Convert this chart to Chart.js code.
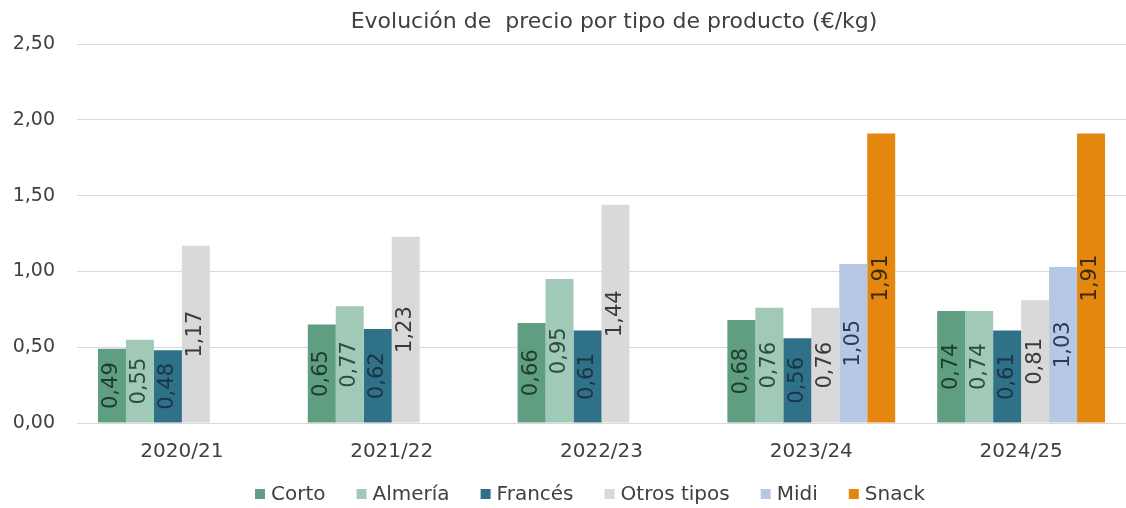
<!DOCTYPE html>
<html><head><meta charset="utf-8">
<script src="https://cdn.jsdelivr.net/npm/chart.js@4"></script>
<style>html,body{margin:0;padding:0;background:#fff;}#wrap{width:1126px;height:508px;}</style>
</head><body><div id="wrap"><canvas id="c" width="1126" height="508"></canvas></div>
<script>
const categories = ["2020/21","2021/22","2022/23","2023/24","2024/25"];
const corto = [0.49,0.65,0.66,0.68,0.74];
const almeria = [0.55,0.77,0.95,0.76,0.74];
const frances = [0.48,0.62,0.61,0.56,0.61];
const otros = [1.17,1.23,1.44,0.76,0.81];
const midi = [null,null,null,1.05,1.03];
const snack = [null,null,null,1.91,1.91];
const seriesNames = ["Corto","Almería","Francés","Otros tipos","Midi","Snack"];
const yTicks = [0,0.5,1,1.5,2,2.5];
const titleText = "Evolución de  precio por tipo de producto (€/kg)";

const FONT = "'DejaVu Sans', sans-serif";
const colors = ["#5f9e80","#a0cab7","#2f7189","#d9d9d9","#b6c8e6","#e3870f"];
const labelColors = ["#1f3a2e","#2f4a3e","#1b3444","#3a3a3a","#2c3a5a","#3a2a10"];
const fmt = v => v.toFixed(2).replace('.', ',');

const labelPlugin = {
  id:'barLabels',
  afterDatasetsDraw(chart){
    const ctx = chart.ctx;
    chart.data.datasets.forEach((ds,i)=>{
      const meta = chart.getDatasetMeta(i);
      meta.data.forEach((el,j)=>{
        const v = ds.data[j];
        if(v===null||v===undefined) return;
        const cy = (el.y + el.base)/2;
        ctx.save();
        ctx.translate(el.x, cy);
        ctx.rotate(-Math.PI/2);
        ctx.font = "21px " + FONT;
        ctx.fillStyle = labelColors[i];
        ctx.textAlign='center'; ctx.textBaseline='middle';
        ctx.fillText(fmt(v),0,0);
        ctx.restore();
      });
    });
  },
  afterDraw(chart){
    const ctx = chart.ctx;
    ctx.save();
    // title
    ctx.font = "22px " + FONT;
    ctx.fillStyle = "#404040";
    ctx.textAlign='center'; ctx.textBaseline='middle';
    ctx.fillText(titleText, 614, 22);
    // legend
    ctx.font = "20px " + FONT;
    ctx.textAlign='left';
    const box = 10, gapBox = 6, total = 670, startX = 255, cy = 494;
    const ds = chart.data.datasets;
    const widths = ds.map(d=>ctx.measureText(d.label).width);
    const sumItems = widths.reduce((a,w)=>a+box+gapBox+w,0);
    const gap = (total - sumItems)/(ds.length-1);
    let x = startX;
    ds.forEach((d,i)=>{
      ctx.fillStyle = d.backgroundColor;
      ctx.fillRect(x, cy-box/2, box, box);
      ctx.fillStyle = "#404040";
      ctx.fillText(d.label, x+box+gapBox, cy+1);
      x += box+gapBox+widths[i]+gap;
    });
    ctx.restore();
  }
};

const data = [corto,almeria,frances,otros,midi,snack];
new Chart(document.getElementById('c'),{
  type:'bar',
  data:{labels:categories,datasets:data.map((d,i)=>({label:seriesNames[i],data:d,backgroundColor:colors[i],borderWidth:0,categoryPercentage:0.8,barPercentage:1.0}))},
  options:{
    responsive:false,animation:false,
    layout:{padding:{left:12,right:0,top:4,bottom:27}},
    plugins:{
      title:{display:true,text:titleText,color:"rgba(0,0,0,0)",font:{family:FONT,size:21,weight:'normal'},padding:{top:6,bottom:9}},
      legend:{display:false},
      tooltip:{enabled:false}
    },
    scales:{
      x:{grid:{display:false,drawTicks:false},border:{display:true,color:"#d9d9d9"},ticks:{color:"#404040",font:{family:FONT,size:20},padding:17}},
      y:{min:0,max:2.5,afterBuildTicks:a=>{a.ticks=yTicks.map(v=>({value:v}));},afterFit:s=>{s.width=65;},grid:{color:"#d9d9d9",drawTicks:false},border:{display:false},ticks:{color:"#404040",font:{family:FONT,size:19},padding:22,callback:v=>fmt(v)}}
    }
  },
  plugins:[labelPlugin]
});
</script></body></html>
